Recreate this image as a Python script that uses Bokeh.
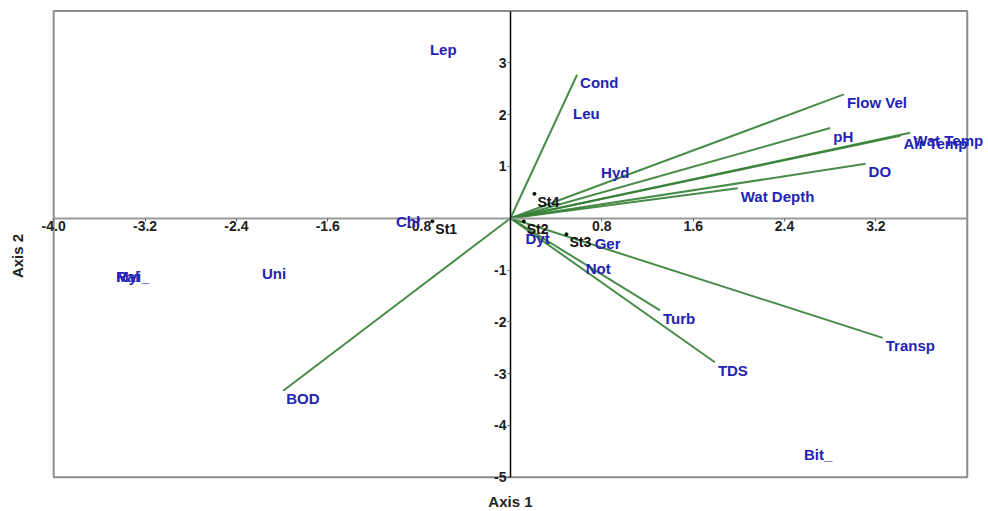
from bokeh.plotting import figure
from bokeh.models import ColumnDataSource, LabelSet, Label, FixedTicker, Title
from bokeh.core.properties import value
from bokeh.embed import file_html
from bokeh.resources import INLINE

# ---- data ----
axis1_extent = [-4.0, 4.0]
axis2_extent = [-5.0, 4.0]
x_ticks = [-4.0, -3.2, -2.4, -1.6, -0.8, 0.8, 1.6, 2.4, 3.2]
x_tick_labels = ["-4.0", "-3.2", "-2.4", "-1.6", "-0.8", "0.8", "1.6", "2.4", "3.2"]
y_ticks = [3, 2, 1, -1, -2, -3, -4, -5]
y_tick_labels = ["3", "2", "1", "-1", "-2", "-3", "-4", "-5"]

env_names = ["Cond", "Flow Vel", "pH", "Wat Temp", "Air Temp", "DO",
             "Wat Depth", "BOD", "Transp", "TDS", "Turb"]
env_x = [0.583, 2.92, 2.80, 3.50, 3.415, 3.11, 1.99, -1.99, 3.26, 1.79, 1.31]
env_y = [2.77, 2.39, 1.74, 1.65, 1.59, 1.05, 0.58, -3.33, -2.31, -2.78, -1.78]

species_names = ["Lep", "Leu", "Hyd", "Chl", "Dyt", "Ger", "Not", "Uni",
                 "Ral", "Myi_", "Bit_"]
species_x = [-0.732, 0.522, 0.767, -1.029, 0.105, 0.711, 0.632, -2.203,
             -3.479, -3.479, 2.544]
species_y = [3.41, 2.17, 1.04, 0.10, -0.23, -0.33, -0.82, -0.92,
             -0.97, -0.97, -4.41]

site_names = ["St1", "St2", "St3", "St4"]
site_x = [-0.684, 0.116, 0.490, 0.210]
site_y = [-0.06, -0.06, -0.31, 0.47]

# ---- styles ----
FONT = "Liberation Sans"
BLUE = "#2323B4"
GREEN = "#358035"

# the visible frame is a bit larger than the axis box so that labels
# overhanging the box (as in the original) are not clipped
p = figure(width=988, height=511, x_range=(-4.203, 4.186), y_range=(-5.662, 4.203),
           output_backend="svg", toolbar_location=None,
           min_border_left=30, min_border_right=0,
           min_border_top=0, min_border_bottom=0)
p.grid.visible = False
p.outline_line_color = None
p.background_fill_color = "white"
p.border_fill_color = "white"

# box around the axis extent
p.quad(left=[axis1_extent[0]], right=[axis1_extent[1]],
       bottom=[axis2_extent[0]], top=[axis2_extent[1]],
       fill_color=None, line_color="#8c8c8c", line_width=2)

# axes crossing at the origin
p.xaxis.fixed_location = 0
p.yaxis.fixed_location = 0
p.xaxis.bounds = tuple(axis1_extent)
p.yaxis.bounds = tuple(axis2_extent)
p.xaxis.ticker = FixedTicker(ticks=x_ticks)
p.yaxis.ticker = FixedTicker(ticks=y_ticks)
p.xaxis.major_label_overrides = {t: l for t, l in zip(x_ticks, x_tick_labels)}
p.yaxis.major_label_overrides = {t: l for t, l in zip(y_ticks, y_tick_labels)}
for ax in (p.xaxis, p.yaxis):
    ax.minor_tick_line_color = None
    ax.major_tick_in = 0
    ax.major_tick_out = 3
    ax.major_label_text_font = FONT
    ax.major_label_text_font_style = "bold"
    ax.major_label_text_font_size = "14px"
    ax.major_label_text_color = "#222222"
    ax.major_tick_line_color = "#666666"
p.xaxis.axis_line_color = "#999999"
p.xaxis.axis_line_width = 2
p.yaxis.axis_line_color = "black"
p.yaxis.axis_line_width = 1.5
p.xaxis.major_label_standoff = 0
p.yaxis.major_label_standoff = 1

# axis titles
p.add_layout(Label(x=sum(axis1_extent) / 2, y=axis2_extent[0], y_offset=-24,
                   text="Axis 1", text_align="center", text_baseline="middle",
                   text_font=FONT, text_font_style="bold",
                   text_font_size="15px", text_color="#222222"))
p.add_layout(Title(text="Axis 2", align="center", text_font=FONT,
                   text_font_style="bold", text_font_size="15px",
                   text_color="#222222"), "left")

# environmental vectors
env_src = ColumnDataSource(dict(x0=[0] * len(env_x), y0=[0] * len(env_y),
                                x=env_x, y=env_y, name=env_names))
p.segment(x0="x0", y0="y0", x1="x", y1="y", source=env_src,
          line_color=GREEN, line_width=2, line_alpha=0.9)

# sites
site_src = ColumnDataSource(dict(x=site_x, y=site_y, name=site_names))
p.scatter(x="x", y="y", source=site_src, size=3, color="black")

label_kw = dict(x="x", y="y", text="name", x_offset=3, y_offset=-8,
                text_align="left", text_baseline="middle",
                text_font=value(FONT), text_font_style="bold")

p.add_layout(LabelSet(source=env_src, text_color=BLUE,
                      text_font_size="15px", **label_kw))
species_src = ColumnDataSource(dict(x=species_x, y=species_y, name=species_names))
p.add_layout(LabelSet(source=species_src, text_color=BLUE,
                      text_font_size="15px", **label_kw))
p.add_layout(LabelSet(source=site_src, text_color="#111111",
                      text_font_size="14px", **label_kw))

open("out.html", "w").write(file_html(p, INLINE))
